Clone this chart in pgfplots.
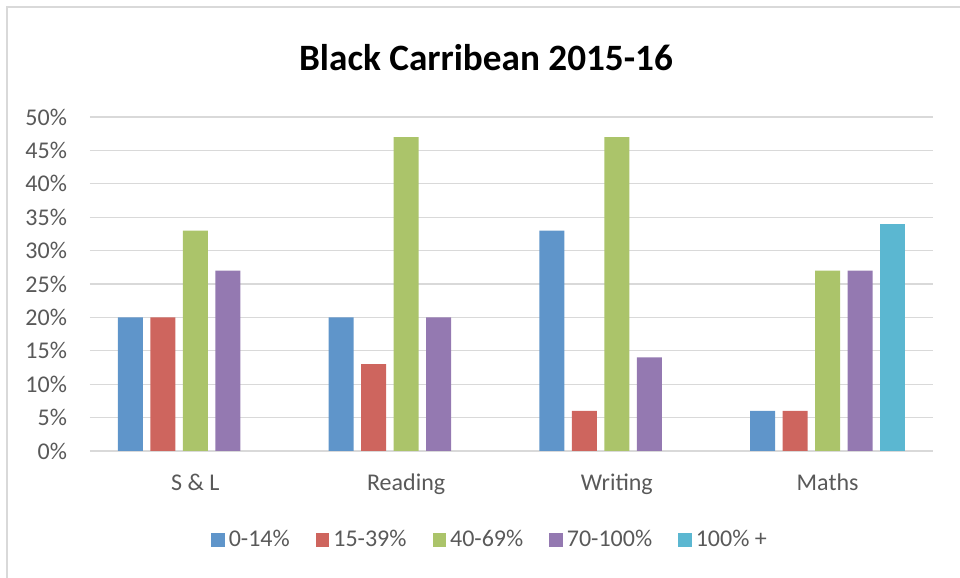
\documentclass[border=0pt]{standalone}
\usepackage{pgfplots}
\pgfplotsset{compat=1.18}
\usepackage{fontspec}
\setmainfont{Carlito}
\definecolor{cA}{HTML}{5F95CA}
\definecolor{cB}{HTML}{CE655E}
\definecolor{cC}{HTML}{ABC46A}
\definecolor{cD}{HTML}{9479B1}
\definecolor{cE}{HTML}{5BB7D1}
\definecolor{gridc}{HTML}{D9D9D9}
\definecolor{txt}{HTML}{595959}
\begin{document}
\begin{tikzpicture}
\useasboundingbox (0,0) rectangle (480pt,289pt);
\draw[gridc, line width=0.6pt] (3.5pt,-2pt) -- (3.5pt,285.5pt) -- (482pt,285.5pt);
\node[font=\fontsize{18.6}{20}\selectfont\bfseries, text=black] at (243pt,260pt) {Black Carribean 2015-16};
\begin{axis}[
  at={(45pt,63.5pt)}, anchor=south west,
  scale only axis, width=421.5pt, height=167pt,
  ybar, bar width=12.5pt, ybar=3.75pt,
  xmin=-0.5, xmax=3.5, ymin=0, ymax=50,
  xtick={0,1,2,3}, xticklabels={S \& L, Reading, Writing, Maths},
  ytick={0,5,...,50},
  yticklabel={\pgfmathprintnumber{\tick}\%},
  /pgf/number format/assume math mode=true,
  ymajorgrids, grid style={gridc, line width=0.6pt},
  axis x line*=bottom, axis y line*=left,
  x axis line style={gridc, line width=0.6pt},
  y axis line style={draw=none},
  major tick length=0pt,
  ticklabel style={font=\fontsize{12}{14}\selectfont, text=txt},
  xticklabel style={yshift=-8pt},
  yticklabel style={xshift=-8pt},
  legend style={at={(0.4757,-0.2665)}, anchor=center, draw=none, fill=none,
    legend columns=-1, font=\fontsize{12}{14}\selectfont, text=txt,
    /tikz/every even column/.append style={column sep=11pt},
    inner sep=0pt},
  legend image code/.code={\fill[#1] (0pt,-3.3pt) rectangle (6.8pt,3.3pt);},
  legend cell align=left,
]
\addplot[fill=cA, draw=none] coordinates {(0,20) (1,20) (2,33) (3,6)};
\addplot[fill=cB, draw=none] coordinates {(0,20) (1,13) (2,6) (3,6)};
\addplot[fill=cC, draw=none] coordinates {(0,33) (1,47) (2,47) (3,27)};
\addplot[fill=cD, draw=none] coordinates {(0,27) (1,20) (2,14) (3,27)};
\addplot[fill=cE, draw=none] coordinates {(3,34)};
\legend{0-14\%, 15-39\%, 40-69\%, 70-100\%, 100\% +}
\end{axis}
\end{tikzpicture}
\end{document}
